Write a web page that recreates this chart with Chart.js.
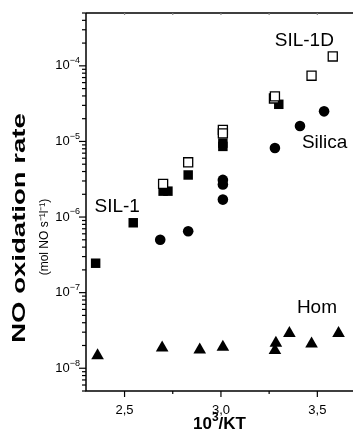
<!DOCTYPE html>
<html>
<head>
<meta charset="utf-8">
<script src="https://cdn.jsdelivr.net/npm/chart.js@4"></script>
<style>
  html, body { margin: 0; padding: 0; background: #fff; overflow: hidden; }
  #wrap { position: relative; width: 353px; height: 437px; }
  canvas { display: block; }
</style>
</head>
<body>
<div id="wrap"><canvas id="rate"></canvas></div>
<script>
// 10^3/KT against NO oxidation rate, log scale
var sil1dX = [2.70, 2.83, 3.01, 3.01, 3.275, 3.28, 3.47, 3.58];
var sil1dY = [2.75e-6, 5.3e-6, 1.42e-5, 1.28e-5, 3.7e-5, 3.95e-5, 7.4e-5, 1.33e-4];

var sil1X = [2.35, 2.545, 2.70, 2.725, 2.83, 3.01, 3.01, 3.30];
var sil1Y = [2.45e-7, 8.4e-7, 2.2e-6, 2.2e-6, 3.6e-6, 9.5e-6, 8.6e-6, 3.1e-5];

var silicaX = [2.685, 2.83, 3.01, 3.01, 3.01, 3.28, 3.41, 3.535];
var silicaY = [5.0e-7, 6.5e-7, 1.7e-6, 2.7e-6, 3.1e-6, 8.2e-6, 1.6e-5, 2.5e-5];

var homX = [2.36, 2.695, 2.89, 3.01, 3.28, 3.285, 3.355, 3.47, 3.61];
var homY = [1.47e-8, 1.86e-8, 1.75e-8, 1.9e-8, 1.72e-8, 2.15e-8, 2.9e-8, 2.1e-8, 2.9e-8];

var xTicks = [2.5, 3.0, 3.5];
var yDecades = [-8, -7, -6, -5, -4];

function pts(xs, ys) {
    return xs.map(function(v, i) { return {x: v, y: ys[i]}; });
}

// series names written next to the points, anchored in data units
var seriesLabels = [
    {text: 'SIL-1D', x: 3.279, y: 2.13e-4},
    {text: 'Silica', x: 3.42, y: 9.7e-6},
    {text: 'SIL-1', x: 2.344, y: 1.38e-6},
    {text: 'Hom', x: 3.394, y: 6.3e-8}
];

var FONT = '"Liberation Sans", Arial, sans-serif';

function supText(ctx, base, sup, x, y, size, weight, align) {
    ctx.font = weight + ' ' + size + 'px ' + FONT;
    var wb = ctx.measureText(base).width;
    var supSize = Math.round(size * 0.68);
    ctx.font = weight + ' ' + supSize + 'px ' + FONT;
    var ws = ctx.measureText(sup).width;
    var start = align === 'right' ? x - wb - ws : (align === 'center' ? x - (wb + ws) / 2 : x);
    ctx.textAlign = 'left';
    ctx.textBaseline = 'middle';
    ctx.font = weight + ' ' + size + 'px ' + FONT;
    ctx.fillText(base, start, y);
    ctx.font = weight + ' ' + supSize + 'px ' + FONT;
    ctx.fillText(sup, start + wb, y - size * 0.4);
    return start + wb + ws;
}

var framePlugin = {
    id: 'frame',
    beforeDatasetsDraw: function(chart) {
        var ctx = chart.ctx, a = chart.chartArea;
        var x = chart.scales.x, y = chart.scales.y;
        ctx.save();
        ctx.strokeStyle = '#000';
        ctx.lineWidth = 1.5;
        ctx.beginPath();
        ctx.moveTo(a.left, a.top);
        ctx.lineTo(a.right, a.top);
        ctx.moveTo(a.left, a.top);
        ctx.lineTo(a.left, a.bottom);
        ctx.lineTo(a.right, a.bottom);
        ctx.stroke();

        // bottom ticks, every 0.25, long on labelled ones
        ctx.lineWidth = 1.2;
        for (var v = 2.5; v <= 3.51; v += 0.25) {
            var px = x.getPixelForValue(v);
            var major = Math.abs(v * 2 - Math.round(v * 2)) < 1e-6;
            ctx.beginPath();
            ctx.moveTo(px, a.bottom);
            ctx.lineTo(px, a.bottom + (major ? 6 : 3));
            ctx.stroke();
            // small inward ticks on top edge
            ctx.strokeStyle = '#888';
            ctx.beginPath();
            ctx.moveTo(px, a.top);
            ctx.lineTo(px, a.top + 2);
            ctx.stroke();
            ctx.strokeStyle = '#000';
        }

        // left log ticks
        for (var d = -9; d <= -4; d++) {
            for (var m = 1; m <= 9; m++) {
                var val = m * Math.pow(10, d);
                if (val < y.min || val > y.max) continue;
                var py = y.getPixelForValue(val);
                ctx.beginPath();
                ctx.moveTo(a.left, py);
                ctx.lineTo(a.left - (m === 1 ? 7 : 4), py);
                ctx.stroke();
            }
        }
        ctx.restore();
    },
    afterDraw: function(chart) {
        var ctx = chart.ctx, a = chart.chartArea;
        var x = chart.scales.x, y = chart.scales.y;
        ctx.save();
        ctx.fillStyle = '#000';

        yDecades.forEach(function(d) {
            supText(ctx, '10', String(d).replace('-', '\u2212'), 80, y.getPixelForValue(Math.pow(10, d)), 13, 'normal', 'right');
        });

        // x title
        ctx.font = 'bold 17px ' + FONT;
        var cx = (a.left + a.right) / 2;
        var w1 = ctx.measureText('10').width;
        ctx.font = 'bold 12px ' + FONT;
        var w2 = ctx.measureText('3').width;
        ctx.font = 'bold 17px ' + FONT;
        var w3 = ctx.measureText('/KT').width;
        var sx = cx - (w1 + w2 + w3) / 2;
        var end = supText(ctx, '10', '3', sx, 424, 17, 'bold', 'left');
        ctx.font = 'bold 17px ' + FONT;
        ctx.textBaseline = 'middle';
        ctx.fillText('/KT', end, 424);

        // y title, rotated; the source stretches it along its length
        ctx.translate(20, 228);
        ctx.rotate(-Math.PI / 2);
        ctx.textAlign = 'center';
        ctx.textBaseline = 'middle';
        ctx.save();
        ctx.scale(1.45, 1);
        ctx.font = 'bold 19px ' + FONT;
        ctx.fillText('NO oxidation rate', 0, 0);
        ctx.restore();
        ctx.font = 'normal 12px ' + FONT;
        ctx.fillText('(mol NO s\u207B\u00B9l\u207B\u00B9)', -9, 25);
        ctx.setTransform(1, 0, 0, 1, 0, 0);

        ctx.font = 'normal 19px ' + FONT;
        ctx.textAlign = 'left';
        ctx.textBaseline = 'middle';
        seriesLabels.forEach(function(l) {
            ctx.fillText(l.text, x.getPixelForValue(l.x), y.getPixelForValue(l.y));
        });
        ctx.restore();
    }
};

new Chart(document.getElementById('rate'), {
    type: 'scatter',
    data: {
        datasets: [
            {label: 'SIL-1D', data: pts(sil1dX, sil1dY), pointStyle: 'rect', pointRadius: 6.4,
             backgroundColor: '#fff', borderColor: '#000', borderWidth: 1.3},
            {label: 'SIL-1', data: pts(sil1X, sil1Y), pointStyle: 'rect', pointRadius: 6.7,
             backgroundColor: '#000', borderColor: '#000', borderWidth: 0},
            {label: 'Silica', data: pts(silicaX, silicaY), pointStyle: 'circle', pointRadius: 5.3,
             backgroundColor: '#000', borderColor: '#000', borderWidth: 0},
            {label: 'Hom', data: pts(homX, homY), pointStyle: 'triangle', pointRadius: 7.3,
             backgroundColor: '#000', borderColor: '#000', borderWidth: 0}
        ]
    },
    options: {
        responsive: true,
        maintainAspectRatio: false,
        animation: false,
        layout: {autoPadding: false, padding: {top: 13, left: 0, right: 0, bottom: 0}},
        plugins: {legend: {display: false}, tooltip: {enabled: false}},
        scales: {
            x: {
                type: 'linear',
                min: 2.3,
                max: 3.685,
                grid: {display: false, drawTicks: false},
                border: {display: false},
                afterBuildTicks: function(s) {
                    s.ticks = xTicks.map(function(v) { return {value: v}; });
                },
                ticks: {
                    autoSkip: false,
                    maxRotation: 0,
                    padding: 12,
                    color: '#000',
                    font: {family: FONT, size: 13},
                    callback: function(v) { return v.toFixed(1).replace('.', ','); }
                },
                afterFit: function(s) { s.height = 46; s.paddingLeft = 0; s.paddingRight = 0; }
            },
            y: {
                type: 'logarithmic',
                min: 5e-9,
                max: 5e-4,
                grid: {display: false, drawTicks: false},
                border: {display: false},
                ticks: {display: false},
                afterFit: function(s) { s.width = 86; }
            }
        }
    },
    plugins: [framePlugin]
});
</script>
</body>
</html>
